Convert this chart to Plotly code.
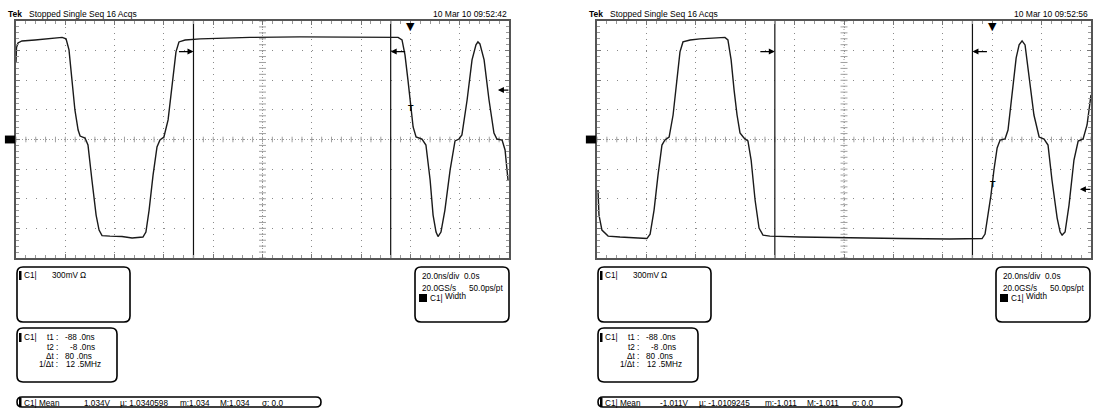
import plotly.graph_objects as go
import numpy as np

W, H = 1093, 408

# ---------------- data ----------------
t_range = [-160, 40]          # ns (20 ns/div, trigger at 8th division)
v_range = [-1.2, 1.2]         # V (300 mV/div)

left_t = [-160, -159.8, -159.2, -157.6, -152.3, -146.2, -141.3, -139.7, -138.5, -137.3,
          -136.1, -134.8, -134.0, -132.0, -130.8, -129.2, -127.5, -126.3, -125.1, -121.9,
          -117.0, -112.9, -108.5, -107.3, -106.0, -104.4, -102.8, -101.6, -100.0, -98.3,
          -96.7, -95.1, -93.9, -91.4, -85.3, -65.1, -44.8, -20.4, -5.0, -3.4,
          -2.2, -1.0, 0.3, 1.1, 2.3, 4.7, 6.3, 8.0, 9.2, 10.4,
          11.2, 12.4, 14.0, 16.1, 18.1, 19.7, 20.9, 23.0, 25.0, 26.6,
          27.4, 28.2, 29.9, 31.9, 33.9, 35.1, 37.2, 38.4, 39.6]
left_v = [0.785, 0.93, 0.978, 0.998, 1.008, 1.024, 1.034, 1.019, 0.907, 0.603,
          0.299, 0.096, 0.035, 0.015, -0.056, -0.41, -0.765, -0.917, -0.973, -0.978,
          -0.983, -0.998, -0.988, -0.937, -0.715, -0.36, -0.076, -0.005, 0.025, 0.198,
          0.552, 0.887, 0.988, 1.008, 1.019, 1.034, 1.039, 1.039, 1.034, 1.008,
          0.856, 0.603, 0.329, 0.127, 0.025, 0.005, -0.056, -0.41, -0.765, -0.937,
          -0.983, -0.937, -0.715, -0.31, -0.015, 0.005, 0.046, 0.40, 0.806, 0.958,
          0.988, 0.968, 0.806, 0.40, 0.066, 0.005, -0.005, -0.106, -0.41]

right_t = [-159.6, -159.2, -158.0, -155.5, -150.7, -144.6, -139.8, -138.5, -136.9, -135.3,
           -133.7, -132.5, -130.8, -129.2, -127.6, -126.4, -125.2, -122.3, -118.3, -112.2,
           -108.2, -107.0, -105.7, -104.5, -103.3, -102.1, -100.5, -98.9, -97.6, -96.0,
           -94.4, -92.8, -90.0, -77.8, -57.6, -37.3, -17.1, -4.1, -2.9, -1.7,
           -0.5, 0.7, 2.0, 3.2, 5.2, 6.4, 8.0, 9.7, 10.9, 12.1,
           13.3, 14.9, 16.9, 19.0, 21.0, 22.6, 24.2, 26.3, 27.5, 28.3,
           29.5, 31.1, 33.1, 34.8, 36.8, 38.4, 40.0]
right_v = [-0.512, -0.765, -0.917, -0.978, -0.988, -0.998, -1.003, -0.958, -0.715, -0.36,
           -0.056, -0.005, 0.025, 0.248, 0.603, 0.887, 0.988, 1.008, 1.019, 1.029,
           1.034, 1.008, 0.806, 0.50, 0.248, 0.066, 0.015, -0.015, -0.208, -0.613,
           -0.897, -0.968, -0.978, -0.988, -0.998, -1.003, -1.008, -1.003, -0.958, -0.765,
           -0.5625, -0.309, -0.086, -0.005, 0.005, 0.096, 0.451, 0.826, 0.958, 0.998,
           0.958, 0.654, 0.248, 0.025, 0.005, -0.056, -0.41, -0.796, -0.937, -0.968,
           -0.937, -0.664, -0.208, -0.015, 0.005, 0.147, 0.451]

cursor_t1 = -88.0
cursor_t2 = -8.0
arrow_level = 0.89
trig_level = [0.50, -0.505]
trig_point_v = [0.32, -0.45]

header_text = "Stopped Single Seq 16 Acqs"
dates = ["10 Mar 10 09:52:42", "10 Mar 10 09:52:56"]
mean_vals = ["1.034V", "-1.011V"]
mu_vals = ["µ: 1.0340598", "µ: -1.0109245"]
min_vals = ["m:1.034", "m:-1.011"]
max_vals = ["M:1.034", "M:-1.011"]
sigma_vals = ["σ: 0.0", "σ: 0.0"]

# text x positions in the measurement row (px), per screen
meas_x = [[82, 118, 178, 218, 260], [658, 697, 763, 805, 850]]

# ---------------- layout helpers ----------------
FONT = "Liberation Sans"
FS = 8.5
FSB = 8.2
DOMS = [[16 / W, 509 / W], [597 / W, 1091 / W]]
YDOM = [1 - 258 / H, 1 - 21 / H]
OFFS = [0, 581]

fig = go.Figure()
shapes = []
annotations = []


def px(x):
    return x / W


def py(y):
    return 1 - y / H


def rrect(x0, y0, x1, y1, r=6):
    P = lambda x, y: f"{px(x):.5f},{py(y):.5f}"
    path = (f"M{P(x0 + r, y0)} L{P(x1 - r, y0)} Q{P(x1, y0)} {P(x1, y0 + r)} "
            f"L{P(x1, y1 - r)} Q{P(x1, y1)} {P(x1 - r, y1)} L{P(x0 + r, y1)} "
            f"Q{P(x0, y1)} {P(x0, y1 - r)} L{P(x0, y0 + r)} Q{P(x0, y0)} {P(x0 + r, y0)} Z")
    return dict(type="path", path=path, xref="paper", yref="paper",
                line=dict(color="black", width=1.6))


def blk(x0, y0, x1, y1):
    return dict(type="rect", xref="paper", yref="paper", x0=px(x0), x1=px(x1),
                y0=py(y1), y1=py(y0), fillcolor="black", line=dict(width=0))


def txt(x, y, s, anchor="left", size=FSB, bold=False):
    if bold:
        s = f"<b>{s}</b>"
    return dict(x=px(x), y=py(y), xref="paper", yref="paper", text=s, showarrow=False,
                xanchor=anchor, yanchor="middle", font=dict(family=FONT, size=size, color="black"))


minor_t = np.arange(t_range[0], t_range[1] + 0.1, 4)
minor_v = np.arange(v_range[0], v_range[1] + 0.001, 0.06)
center_t = (t_range[0] + t_range[1]) / 2

waves = [(left_t, left_v), (right_t, right_v)]

for i in range(2):
    xa = "x" if i == 0 else "x2"
    ya = "y" if i == 0 else "y2"
    xk = "xaxis" if i == 0 else "xaxis2"
    yk = "yaxis" if i == 0 else "yaxis2"
    o = OFFS[i]

    fig.update_layout(**{
        xk: dict(domain=DOMS[i], range=t_range, anchor=ya, showgrid=True, gridcolor="#8a8a8a",
                 griddash="1px,4.92px", gridwidth=1, dtick=20, tick0=0, ticks="inside", ticklen=4,
                 tickcolor="#777", showticklabels=False, showline=True, linecolor="#555",
                 linewidth=1.5, mirror="allticks", zeroline=False, fixedrange=True,
                 minor=dict(dtick=4, tick0=0, ticks="inside", ticklen=3, tickcolor="#999",
                            showgrid=False)),
        yk: dict(domain=YDOM, range=v_range, anchor=xa, showgrid=True, gridcolor="#8a8a8a",
                 griddash="1px,8.86px", gridwidth=1, dtick=0.3, tick0=0, ticks="inside", ticklen=4,
                 tickcolor="#777", showticklabels=False, showline=True, linecolor="#555",
                 linewidth=1.5, mirror="allticks", zeroline=False, fixedrange=True,
                 minor=dict(dtick=0.06, tick0=0, ticks="inside", ticklen=3, tickcolor="#999",
                            showgrid=False)),
    })

    # center graticule lines
    fig.add_trace(go.Scatter(x=t_range, y=[0, 0], mode="lines", xaxis=xa, yaxis=ya,
                             line=dict(color="#9a9a9a", width=1, dash="1px,2px"),
                             showlegend=False, hoverinfo="skip"))
    fig.add_trace(go.Scatter(x=[center_t, center_t], y=v_range, mode="lines", xaxis=xa, yaxis=ya,
                             line=dict(color="#9a9a9a", width=1, dash="1px,2px"),
                             showlegend=False, hoverinfo="skip"))
    fig.add_trace(go.Scatter(x=minor_t, y=np.zeros_like(minor_t), mode="markers", xaxis=xa, yaxis=ya,
                             marker=dict(symbol="line-ns", size=4, line=dict(color="#a0a0a0", width=1)),
                             showlegend=False, hoverinfo="skip"))
    fig.add_trace(go.Scatter(x=np.full_like(minor_v, center_t), y=minor_v, mode="markers",
                             xaxis=xa, yaxis=ya,
                             marker=dict(symbol="line-ew", size=5, line=dict(color="#a0a0a0", width=1)),
                             showlegend=False, hoverinfo="skip"))

    # cursors
    for ct in (cursor_t1, cursor_t2):
        fig.add_trace(go.Scatter(x=[ct, ct], y=v_range, mode="lines", xaxis=xa, yaxis=ya,
                                 line=dict(color="#111", width=1.2), showlegend=False,
                                 hoverinfo="skip"))

    # waveform
    tt, vv = waves[i]
    fig.add_trace(go.Scatter(x=tt, y=vv, mode="lines", xaxis=xa, yaxis=ya,
                             line=dict(color="#1a1a1a", width=1.4), showlegend=False))

    # arrows
    annotations.append(dict(x=cursor_t1, y=arrow_level, xref=xa, yref=ya, ax=-16, ay=0,
                            showarrow=True, arrowhead=2, arrowsize=1, arrowwidth=1.2,
                            arrowcolor="black", text=""))
    annotations.append(dict(x=cursor_t2, y=arrow_level, xref=xa, yref=ya, ax=16, ay=0,
                            showarrow=True, arrowhead=2, arrowsize=1, arrowwidth=1.2,
                            arrowcolor="black", text=""))
    annotations.append(dict(x=35.5, y=trig_level[i], xref=xa, yref=ya, ax=12, ay=0,
                            showarrow=True, arrowhead=2, arrowsize=1, arrowwidth=1.2,
                            arrowcolor="black", text=""))
    # trigger point T on waveform
    annotations.append(dict(x=0.3, y=trig_point_v[i], xref=xa, yref=ya, text="<b>T</b>",
                            showarrow=False, font=dict(family=FONT, size=9, color="black")))
    # trigger position marker
    annotations.append(dict(x=0, y=1.0, xref=xa, yref=f"{ya} domain", text="▼", yanchor="top",
                            showarrow=False, yshift=3,
                            font=dict(family="DejaVu Sans", size=11, color="black")))
    # ground marker
    shapes.append(dict(type="rect", xref=f"{xa} domain", yref=ya, x0=-0.0225, x1=-0.002,
                       y0=-0.04, y1=0.04, fillcolor="black", line=dict(width=0)))

    # header
    annotations.append(txt(6 + o, 14, "Tek", bold=True, size=FS))
    annotations.append(txt(27 + o, 14, header_text, size=FS))
    annotations.append(txt(509 + o, 14, dates[i], anchor="right", size=FS))

    # box 1
    shapes.append(rrect(17 + o, 267, 130 + o, 322))
    shapes.append(blk(19 + o, 271, 21.5 + o, 280))
    annotations.append(txt(22 + o, 275, "C1|"))
    annotations.append(txt(50 + o, 275, "300mV"))
    annotations.append(txt(78 + o, 275, "Ω"))

    # box 2
    shapes.append(rrect(17 + o, 328, 117 + o, 382))
    shapes.append(blk(19 + o, 333, 21.5 + o, 342))
    annotations.append(txt(22 + o, 337, "C1|"))
    rows = [(337, "t1 :", "-88 .0ns", 63), (347, "t2 :", "-8 .0ns", 68),
            (356, "Δt :", "80 .0ns", 63), (364, "1/Δt :", "12 .5MHz", 64)]
    for yy, lab, val, vx in rows:
        annotations.append(txt(60 + o, yy, lab, anchor="right"))
        annotations.append(txt(vx + o, yy, val))

    # box 3 (measurement)
    shapes.append(rrect(17 + o, 397, 321 + o, 407, r=5))
    shapes.append(blk(19 + o, 398, 21.5 + o, 407))
    annotations.append(txt(22 + o, 403, "C1|"))
    annotations.append(txt(37 + o, 403, "Mean"))
    mx = meas_x[i]
    annotations.append(txt(mx[0], 403, mean_vals[i]))
    annotations.append(txt(mx[1], 403, mu_vals[i]))
    annotations.append(txt(mx[2], 403, min_vals[i]))
    annotations.append(txt(mx[3], 403, max_vals[i]))
    annotations.append(txt(mx[4], 403, sigma_vals[i]))

    # box 4 (timebase)
    shapes.append(rrect(415 + o, 267, 509 + o, 322))
    annotations.append(txt(420 + o, 276, "20.0ns/div"))
    annotations.append(txt(462 + o, 276, "0.0s"))
    annotations.append(txt(420 + o, 288, "20.0GS/s"))
    annotations.append(txt(467 + o, 288, "50.0ps/pt"))
    shapes.append(blk(419 + o, 294, 427 + o, 302))
    annotations.append(txt(428 + o, 298, "C1|"))
    annotations.append(txt(443 + o, 296, "Width"))

fig.update_layout(width=W, height=H, margin=dict(l=0, r=0, t=0, b=0),
                  paper_bgcolor="white", plot_bgcolor="white", showlegend=False,
                  shapes=shapes, annotations=annotations)

fig.write_html("out.html", config={"displayModeBar": False},
               post_script="document.body.style.margin='0';document.body.style.overflow='hidden';")
